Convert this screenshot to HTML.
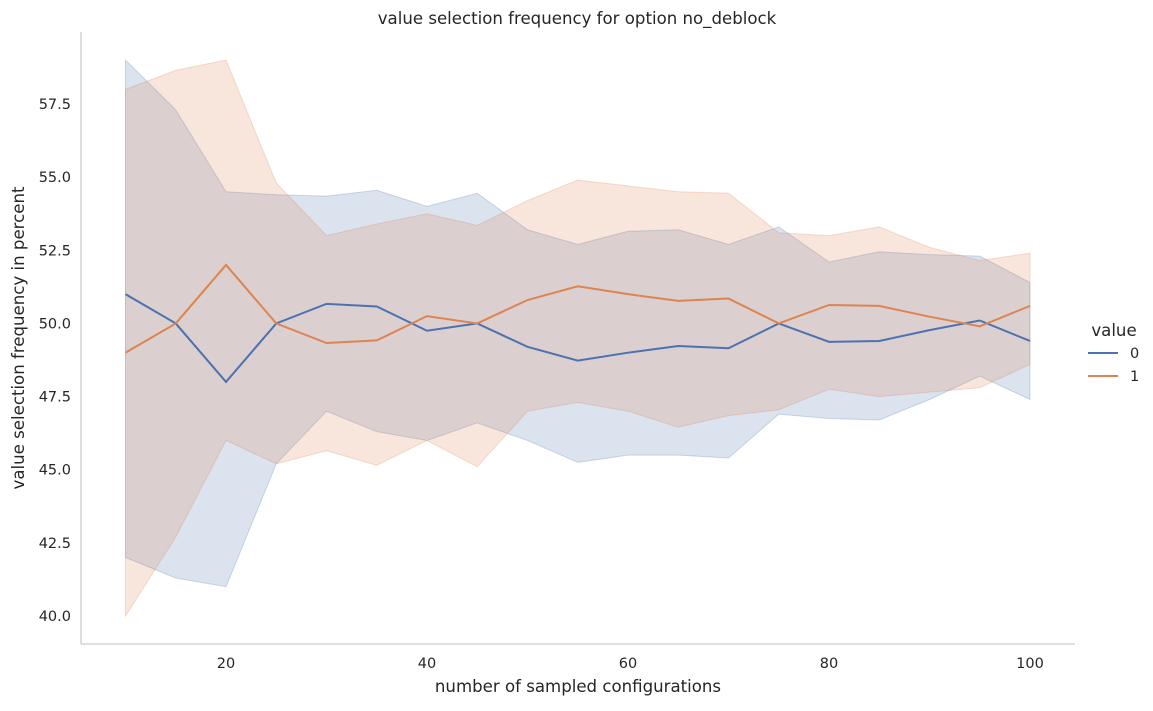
<!DOCTYPE html>
<html><head><meta charset="utf-8"><style>
body{margin:0;background:#fff;font-family:"Liberation Sans","DejaVu Sans",sans-serif;}
svg text{font-family:"DejaVu Sans","Liberation Sans",sans-serif;fill:#262626;}
</style></head><body>
<svg id="chart" width="1153" height="706">
<text x="577" y="24" font-size="16.6" text-anchor="middle">value selection frequency for option no_deblock</text>
<g id="bands"></g><g id="lines"></g><g id="axes"></g>
<text x="578" y="692" font-size="16.6" text-anchor="middle">number of sampled configurations</text>
<text transform="translate(24,338) rotate(-90)" font-size="16.6" text-anchor="middle">value selection frequency in percent</text>
<g>
<text x="1114" y="336" font-size="16.6" text-anchor="middle">value</text>
<line x1="1088" y1="353" x2="1118" y2="353" stroke="#4c72b0" stroke-width="2"/>
<text x="1130" y="358" font-size="14.5">0</text>
<line x1="1088" y1="376" x2="1118" y2="376" stroke="#dd8452" stroke-width="2"/>
<text x="1130" y="381" font-size="14.5">1</text>
</g>
</svg>
<script>
const xs=[10,15,20,25,30,35,40,45,50,55,60,65,70,75,80,85,90,95,100];
const mean0=[51.0,50.0,48.0,50.0,50.67,50.58,49.75,50.0,49.2,48.73,49.0,49.23,49.15,50.0,49.37,49.4,49.77,50.1,49.4];
const hi0=[59.0,57.3,54.5,54.4,54.35,54.55,54.0,54.45,53.2,52.7,53.15,53.2,52.7,53.3,52.1,52.45,52.35,52.3,51.4];
const lo0=[42.0,41.3,41.0,45.2,47.0,46.3,46.0,46.6,46.0,45.25,45.5,45.5,45.4,46.9,46.75,46.7,47.4,48.2,47.4];
const mean1=[49.0,50.0,52.0,50.0,49.33,49.42,50.25,50.0,50.8,51.27,51.0,50.77,50.85,50.0,50.63,50.6,50.23,49.9,50.6];
const hi1=[58.0,58.65,59.0,54.8,53.0,53.4,53.75,53.35,54.2,54.9,54.7,54.5,54.45,53.1,53.0,53.3,52.6,52.15,52.4];
const lo1=[40.0,42.7,46.0,45.2,45.65,45.15,46.0,45.1,47.0,47.3,47.0,46.45,46.85,47.05,47.75,47.5,47.65,47.8,48.6];
const xTicks=[20,40,60,80,100];
const yTicks=[40.0,42.5,45.0,47.5,50.0,52.5,55.0,57.5];
const X=v=>226+(v-20)*(1030-226)/80;
const Y=v=>616-(v-40)*(616-104)/17.5;
const NS="http://www.w3.org/2000/svg";
function mk(t,a,p){const e=document.createElementNS(NS,t);for(const k in a)e.setAttribute(k,a[k]);p.appendChild(e);return e;}
const bands=document.getElementById('bands'),lines=document.getElementById('lines'),axes=document.getElementById('axes');
function band(hi,lo,c,name){
 let d='M'+xs.map((x,i)=>X(x)+','+Y(hi[i])).join('L')+'L'+xs.slice().reverse().map((x,j)=>{const i=xs.length-1-j;return X(x)+','+Y(lo[i]);}).join('L')+'Z';
 const p=mk('path',{d:d,fill:c,'fill-opacity':0.2,stroke:c,'stroke-opacity':0.25},bands);
 
 
}
function line(m,c,name){
 const p=mk('path',{d:'M'+xs.map((x,i)=>X(x)+','+Y(m[i])).join('L'),fill:'none',stroke:c,'stroke-width':2},lines);
 
 
}
band(hi0,lo0,'#4c72b0','ci-band-0');
band(hi1,lo1,'#dd8452','ci-band-1');
line(mean0,'#4c72b0','line-value-0');
line(mean1,'#dd8452','line-value-1');
const s1=mk('line',{x1:81,y1:32,x2:81,y2:644,stroke:'#cccccc','stroke-width':1.3},axes);


const s2=mk('line',{x1:81,y1:644,x2:1075,y2:644,stroke:'#cccccc','stroke-width':1.3},axes);


xTicks.forEach(v=>{const t=mk('text',{x:X(v),y:668,'font-size':14.5,'text-anchor':'middle'},axes);t.textContent=v;
 
 });
yTicks.forEach(v=>{const t=mk('text',{x:71,y:Y(v)+5,'font-size':14.5,'text-anchor':'end'},axes);t.textContent=v.toFixed(1);
 
 });
</script>
</body></html>
